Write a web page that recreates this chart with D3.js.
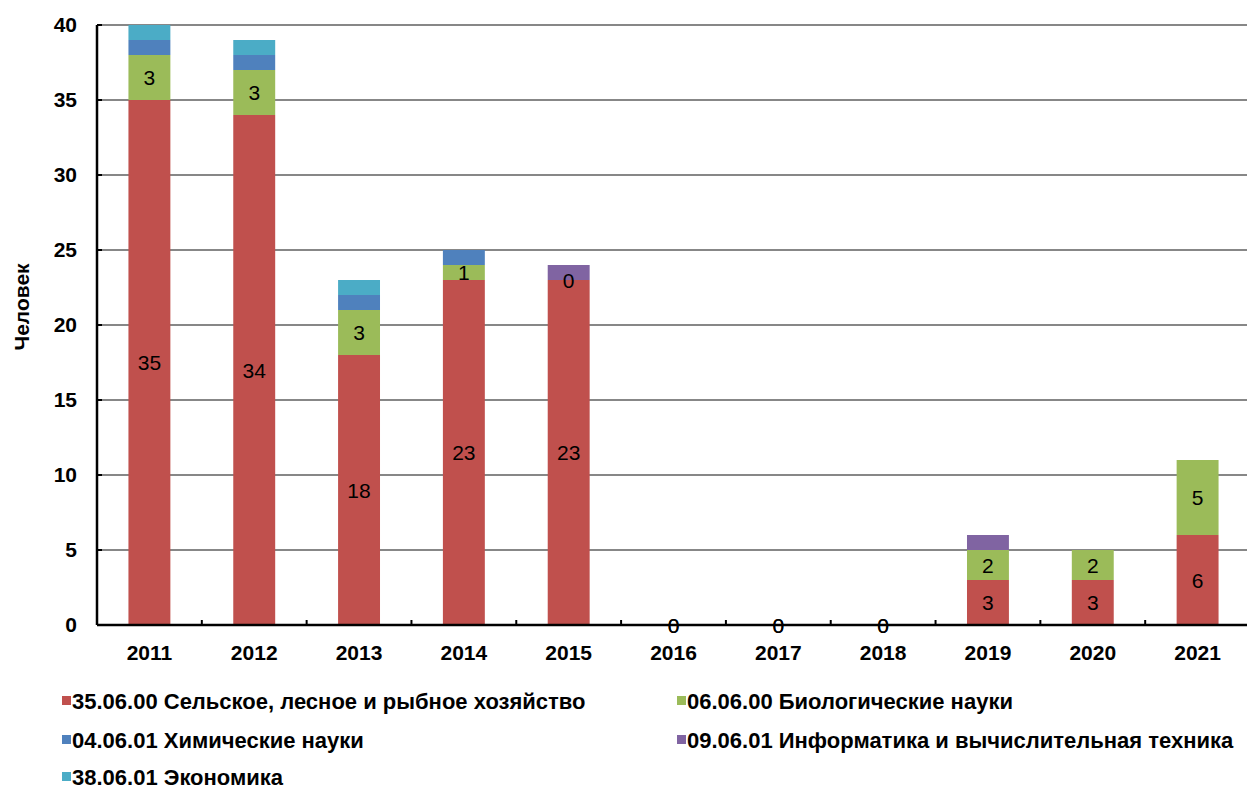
<!DOCTYPE html>
<html><head><meta charset="utf-8">
<script src="https://cdn.jsdelivr.net/npm/d3@7"></script>
<style>body{margin:0;background:#fff}svg{display:block}</style>
</head><body>
<svg id="c" width="1247" height="789"></svg>
<script>
const years = ["2011","2012","2013","2014","2015","2016","2017","2018","2019","2020","2021"];
const seriesNames = [
  "35.06.00 Сельское, лесное и рыбное хозяйство",
  "06.06.00 Биологические науки",
  "04.06.01 Химические науки",
  "09.06.01 Информатика и вычислительная техника",
  "38.06.01 Экономика"
];
const agri    = [35,34,18,23,23,0,0,0,3,3,6];
const bio     = [3,3,3,1,0,0,0,0,2,2,5];
const chem    = [1,1,1,1,0,0,0,0,0,0,0];
const inf     = [0,0,0,0,1,0,0,0,1,0,0];
const econ    = [1,1,1,0,0,0,0,0,0,0,0];
const colors  = ["#C0504D","#9BBB59","#4F81BD","#8064A2","#4BACC6"];
const labeled = [true,true,false,false,false];
const yTicks  = [0,5,10,15,20,25,30,35,40];
const yTitle  = "Человек";

const FONT = "Liberation Sans, Arial, sans-serif";
const allSeries = [agri,bio,chem,inf,econ];
const rows = years.map((y,i)=>{const o={year:y}; allSeries.forEach((s,k)=>o["s"+k]=s[i]); return o;});
const keys = allSeries.map((s,k)=>"s"+k);
const stack = d3.stack().keys(keys)(rows);

const svg = d3.select("#c");
const x = d3.scaleBand().domain(years).range([97,1250]).paddingInner(0.6).paddingOuter(0.3);
const xb = d3.scaleBand().domain(years).range([97,1250]);
const y = d3.scaleLinear().domain([0,40]).range([625,25]);

// gridlines
svg.append("g").selectAll("line").data(yTicks.filter(t=>t>0)).join("line")
  .attr("x1",97).attr("x2",1247).attr("y1",d=>y(d)).attr("y2",d=>y(d))
  .attr("stroke","#111").attr("stroke-width",1.2);

// bars
const g = svg.append("g");
stack.forEach((layer,k)=>{
  g.append("g").selectAll("rect").data(layer.filter(d=>d[1]-d[0]>0)).join("rect")
    .attr("x",d=>x(d.data.year)).attr("width",x.bandwidth())
    .attr("y",d=>y(d[1])).attr("height",d=>y(d[0])-y(d[1]))
    .attr("fill",colors[k]);
});

// y axis
svg.append("line").attr("x1",97).attr("x2",97).attr("y1",y(40)).attr("y2",y(0)).attr("stroke","#000").attr("stroke-width",2.5);
svg.append("g").selectAll("line").data(yTicks).join("line")
  .attr("x1",97).attr("x2",102).attr("y1",d=>y(d)).attr("y2",d=>y(d)).attr("stroke","#000").attr("stroke-width",2);
svg.append("g").selectAll("text").data(yTicks).join("text")
  .attr("x",77).attr("y",d=>y(d)).attr("dy","0.35em").attr("text-anchor","end")
  .attr("font-family",FONT).attr("font-weight","bold").attr("font-size",21)
  .text(d=>d);

// x axis
svg.append("line").attr("x1",97).attr("x2",1247).attr("y1",y(0)).attr("y2",y(0)).attr("stroke","#000").attr("stroke-width",2.5);
svg.append("g").selectAll("line").data(years.slice(1)).join("line")
  .attr("x1",d=>xb(d)).attr("x2",d=>xb(d)).attr("y1",y(0)).attr("y2",y(0)-5).attr("stroke","#000").attr("stroke-width",2);
svg.append("g").selectAll("text").data(years).join("text")
  .attr("x",d=>xb(d)+xb.bandwidth()/2).attr("y",660).attr("text-anchor","middle")
  .attr("font-family",FONT).attr("font-weight","bold").attr("font-size",21)
  .text(d=>d);

// y title
svg.append("text").attr("transform","translate(29,307) rotate(-90)").attr("text-anchor","middle")
  .attr("font-family",FONT).attr("font-weight","bold").attr("font-size",21)
  .text(yTitle);

// data labels
stack.forEach((layer,k)=>{
  if(!labeled[k]) return;
  svg.append("g").selectAll("text").data(layer).join("text")
    .attr("x",d=>x(d.data.year)+x.bandwidth()/2).attr("y",d=>y((d[0]+d[1])/2)).attr("dy","0.36em")
    .attr("text-anchor","middle").attr("font-family",FONT).attr("font-size",21)
    .attr("fill","#000").text(d=>d[1]-d[0]);
});

// legend
const legPos = [[62,701],[677,701],[62,740],[677,740],[62,777]];
const lg = svg.append("g");
seriesNames.forEach((n,k)=>{
  const [lx,ly] = legPos[k];
  lg.append("rect").attr("x",lx).attr("y",ly-5).attr("width",9).attr("height",9).attr("fill",colors[k]);
  lg.append("text").attr("x",lx+10).attr("y",ly).attr("dy","0.35em")
    .attr("font-family",FONT).attr("font-weight","bold").attr("font-size",22)
    .text(n);
});
</script>
</body></html>
